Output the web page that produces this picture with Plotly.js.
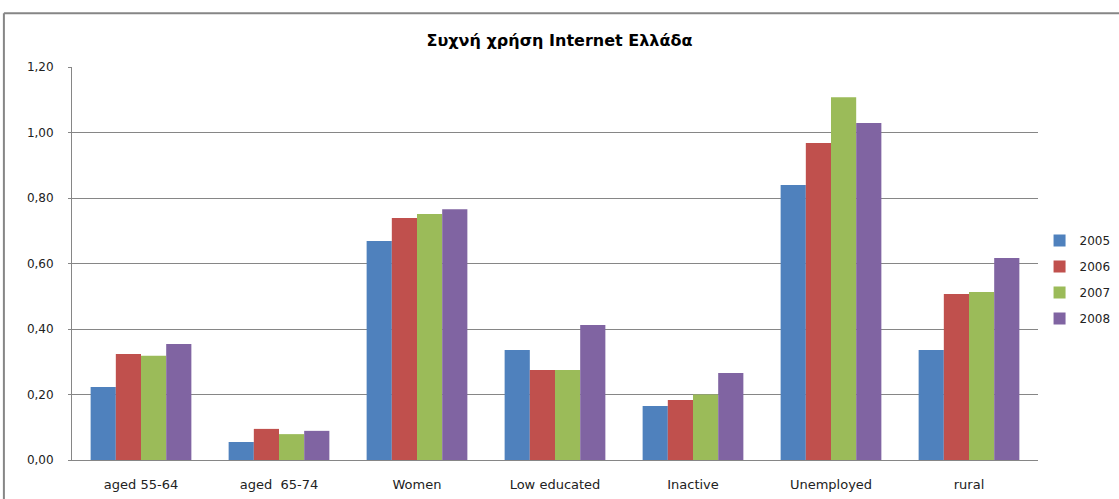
<!DOCTYPE html>
<html>
<head>
<meta charset="utf-8">
<script src="https://cdn.plot.ly/plotly-3.0.1.min.js"></script>
<style>html,body{margin:0;padding:0;background:#fff;overflow:hidden}#chart{width:1119px;height:499px}</style>
</head>
<body>
<div id="chart"></div>
<script>
var categories = ["aged 55-64", "aged  65-74", "Women", "Low educated", "Inactive", "Unemployed", "rural"];
var years = ["2005", "2006", "2007", "2008"];
var v2005 = [0.223, 0.055, 0.669, 0.336, 0.165, 0.840, 0.336];
var v2006 = [0.324, 0.095, 0.739, 0.275, 0.183, 0.968, 0.507];
var v2007 = [0.318, 0.079, 0.751, 0.275, 0.200, 1.108, 0.513];
var v2008 = [0.354, 0.089, 0.766, 0.412, 0.266, 1.029, 0.617];
var tickVals = [0, 0.2, 0.4, 0.6, 0.8, 1.0, 1.2];
var tickText = ["0,00", "0,20", "0,40", "0,60", "0,80", "1,00", "1,20"];

var colors = ["#4F81BD", "#C0504D", "#9BBB59", "#8064A2"];
var series = [v2005, v2006, v2007, v2008];
var traces = series.map(function(vals, i){
  return {type:"bar", name: years[i], x: categories, y: vals, legendgroup: years[i],
    marker:{color: colors[i], line:{width:0}}};
});

var font = "'DejaVu Sans', 'Liberation Sans', sans-serif";
var layout = {
  width:1119, height:499,
  margin:{l:72, r:81, t:67, b:39},
  paper_bgcolor:"#fff", plot_bgcolor:"#fff",
  barmode:"group", bargap:0.27, bargroupgap:0,
  showlegend:true,
  title:{text:"<b>Συχνή χρήση Internet Ελλάδα</b>", x:0.5, xanchor:"center", y:0.92, yanchor:"middle",
    font:{family:font, size:16, color:"#000"}},
  xaxis:{type:"category", showgrid:false, showline:true, linecolor:"#868686", linewidth:1,
    ticks:"", ticklabelstandoff:12, tickfont:{family:font, size:13, color:"#222"}, automargin:false},
  yaxis:{range:[0,1.2], tickvals:tickVals, ticktext:tickText, showgrid:true,
    gridcolor:"#868686", gridwidth:1, showline:true, linecolor:"#868686", linewidth:1,
    ticks:"outside", ticklen:3, tickcolor:"#868686", zeroline:false, ticklabelstandoff:12,
    tickfont:{family:font, size:12, color:"#222"}, automargin:false},
  legend:{xref:"container", yref:"container", x:0.929, xanchor:"left", y:0.44, yanchor:"middle", orientation:"v",
    font:{family:font, size:12, color:"#222"}, bgcolor:"rgba(0,0,0,0)",
    tracegroupgap:7, itemwidth:30},
  shapes:[
    {type:"line", xref:"paper", yref:"paper", x0:-0.0705, x1:1.2, y0:1.137, y1:1.137,
      line:{color:"#868686", width:2}},
    {type:"line", xref:"paper", yref:"paper", x0:-0.0705, x1:-0.0705, y0:1.137, y1:-0.2,
      line:{color:"#868686", width:2}}
  ]
};
Plotly.newPlot("chart", traces, layout, {displayModeBar:false, staticPlot:true});
</script>
</body>
</html>
